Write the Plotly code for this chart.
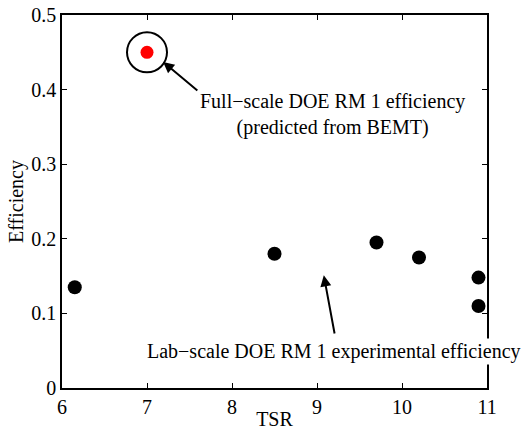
import plotly.graph_objects as go

# Data
lab_tsr = [6.15, 8.5, 9.7, 10.2, 10.9, 10.9]
lab_eff = [0.135, 0.18, 0.195, 0.175, 0.148, 0.11]
full_tsr = [7.0]
full_eff = [0.45]
x_ticks = [6, 7, 8, 9, 10, 11]
y_ticks = [0, 0.1, 0.2, 0.3, 0.4, 0.5]
y_ticklabels = ["0", "0.1", "0.2", "0.3", "0.4", "0.5"]

FONT = "'Liberation Serif', 'Times New Roman', Times, serif"
FS = 20

fig = go.Figure()
fig.add_trace(go.Scatter(x=lab_tsr, y=lab_eff, mode="markers",
                         marker=dict(color="black", size=14), showlegend=False))
fig.add_trace(go.Scatter(x=full_tsr, y=full_eff, mode="markers",
                         marker=dict(color="red", size=13), showlegend=False))
fig.add_trace(go.Scatter(x=full_tsr, y=full_eff, mode="markers",
                         marker=dict(symbol="circle-open", color="black", size=40,
                                     line=dict(width=2, color="black")),
                         showlegend=False))

# arrows
fig.add_annotation(x=7.19, y=0.437, ax=7.61, ay=0.397, xref="x", yref="y",
                   axref="x", ayref="y", text="", showarrow=True,
                   arrowhead=2, arrowsize=1.1, arrowwidth=2, arrowcolor="black")
fig.add_annotation(x=9.08, y=0.151, ax=9.21, ay=0.071, xref="x", yref="y",
                   axref="x", ayref="y", text="", showarrow=True,
                   arrowhead=2, arrowsize=1.1, arrowwidth=2, arrowcolor="black")
# texts
fig.add_annotation(x=9.18, y=0.366, xref="x", yref="y", showarrow=False,
                   text="Full\u2212scale DOE RM 1 efficiency<br>(predicted from BEMT)",
                   align="center", font=dict(family=FONT, size=FS, color="black"))
fig.add_annotation(x=9.2, y=0.049, xref="x", yref="y", showarrow=False,
                   text="Lab\u2212scale DOE RM 1 experimental efficiency",
                   bgcolor="white", borderpad=1,
                   font=dict(family=FONT, size=FS, color="black"))

axis_common = dict(showline=True, linecolor="black", linewidth=1.5, mirror="allticks",
                   ticks="inside", ticklen=5, tickwidth=1, tickcolor="black",
                   showgrid=False, zeroline=False, automargin=False,
                   tickfont=dict(family=FONT, size=FS, color="black"))
fig.update_xaxes(range=[6, 11], tickvals=x_ticks,
                 title=dict(text="TSR", font=dict(family=FONT, size=FS, color="black"), standoff=0),
                 **axis_common)
fig.update_yaxes(range=[0, 0.5], tickvals=y_ticks, ticktext=y_ticklabels,
                 title=dict(text="Efficiency", font=dict(family=FONT, size=FS, color="black"), standoff=2),
                 **axis_common)

fig.update_layout(width=528, height=430, margin=dict(l=62, r=41, t=15, b=42),
                  plot_bgcolor="white", paper_bgcolor="white",
                  font=dict(family=FONT))
fig.write_html("out.html")
